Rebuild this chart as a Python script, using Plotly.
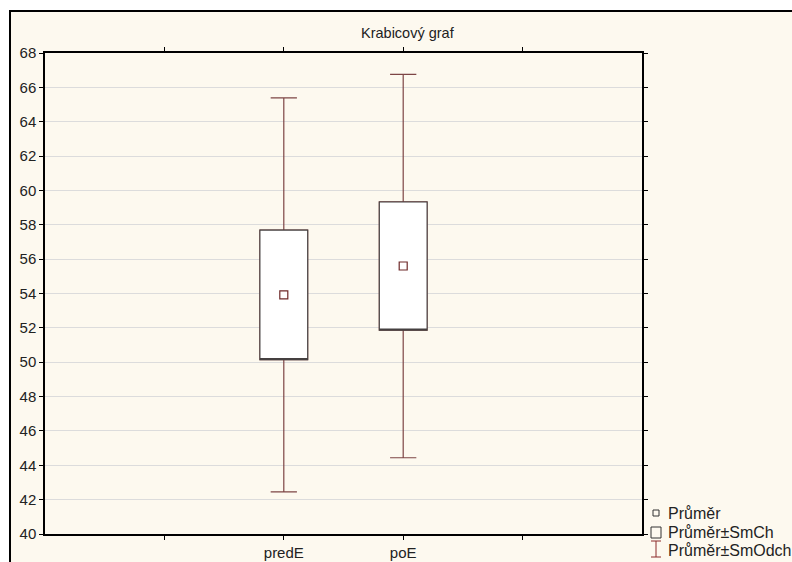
import plotly.graph_objects as go

# Summary statistics per variable
categories = ["predE", "poE"]
positions = [2, 3]
means = [53.92, 55.60]
std_errors = [3.77, 3.73]
std_devs = [11.47, 11.16]

y_ticks = list(range(40, 70, 2))

W, H = 792, 562
L, R, T, B = 45, 150, 53, 28
PW, PH = W - L - R, H - T - B

def px_x(px):
    return (px - L) / PW

def px_y(py):
    return (H - B - py) / PH

WHISKER = "#7d4545"
BOXLINE = "#454040"
MEAN = "#6e2a2a"
CREAM = "#fdf9ef"
FONT = "Liberation Sans, Arial, sans-serif"

fig = go.Figure()

lower_se = [m - s for m, s in zip(means, std_errors)]
upper_se = [m + s for m, s in zip(means, std_errors)]

# Mean ± SD whiskers with caps
fig.add_trace(go.Box(
    x=positions,
    q1=lower_se, median=lower_se, q3=upper_se,
    lowerfence=[m - d for m, d in zip(means, std_devs)],
    upperfence=[m + d for m, d in zip(means, std_devs)],
    width=0.4, whiskerwidth=0.55,
    fillcolor="white", line=dict(color=WHISKER, width=1.2),
    showlegend=False, hoverinfo="skip",
))

# Mean ± SE boxes
fig.add_trace(go.Box(
    x=positions,
    q1=lower_se, median=lower_se, q3=upper_se,
    lowerfence=lower_se, upperfence=upper_se,
    width=0.4, whiskerwidth=0,
    fillcolor="white", line=dict(color=BOXLINE, width=1.1),
    showlegend=False, hoverinfo="skip",
))

# Means
fig.add_trace(go.Scatter(
    x=positions, y=means, mode="markers",
    marker=dict(symbol="square-open", size=8, color=MEAN, line=dict(width=1.2)),
    showlegend=False, hoverinfo="skip",
))

shapes = [
    # cream frame
    dict(type="rect", xref="paper", yref="paper",
         x0=px_x(10), x1=px_x(830), y0=px_y(590), y1=px_y(11),
         fillcolor=CREAM, line=dict(color="black", width=2), layer="below"),
    # legend symbols
    dict(type="rect", xref="paper", yref="paper",
         x0=px_x(653), x1=px_x(659), y0=px_y(516), y1=px_y(510),
         line=dict(color="#333333", width=1), fillcolor="rgba(0,0,0,0)"),
    dict(type="rect", xref="paper", yref="paper",
         x0=px_x(651), x1=px_x(661), y0=px_y(538), y1=px_y(527),
         line=dict(color="#333333", width=1), fillcolor="rgba(0,0,0,0)"),
    dict(type="line", xref="paper", yref="paper",
         x0=px_x(656), x1=px_x(656), y0=px_y(557), y1=px_y(541),
         line=dict(color="#8b2a2a", width=1)),
    dict(type="line", xref="paper", yref="paper",
         x0=px_x(651), x1=px_x(661), y0=px_y(541), y1=px_y(541),
         line=dict(color="#8b2a2a", width=1)),
    dict(type="line", xref="paper", yref="paper",
         x0=px_x(651), x1=px_x(661), y0=px_y(557), y1=px_y(557),
         line=dict(color="#8b2a2a", width=1)),
]

legend_labels = ["Průměr", "Průměr±SmCh", "Průměr±SmOdch"]
legend_rows = [513, 532, 550]
annotations = [
    dict(text="Krabicový graf", xref="paper", yref="paper",
         x=px_x(408), y=px_y(33), xanchor="center", yanchor="middle",
         showarrow=False,
         font=dict(family=FONT, size=14.5, color="#222222")),
]
for label, row in zip(legend_labels, legend_rows):
    annotations.append(dict(text=label, xref="paper", yref="paper",
                            x=px_x(666), y=px_y(row),
                            xanchor="left", yanchor="middle",
                            showarrow=False,
                            font=dict(family=FONT, size=16, color="#222222")))

fig.update_layout(
    width=W, height=H,
    margin=dict(l=L, r=R, t=T, b=B, pad=0, autoexpand=False),
    paper_bgcolor="white", plot_bgcolor="white",
    boxmode="overlay",
    font=dict(family=FONT, size=15, color="#222222"),
    shapes=shapes, annotations=annotations,
    xaxis=dict(range=[0, 5], tickvals=[1, 2, 3, 4],
               ticktext=["", categories[0], categories[1], ""],
               showgrid=False, zeroline=False,
               showline=True, linecolor="black", linewidth=1.5, mirror="ticks",
               ticks="outside", ticklen=4, tickcolor="black",
               tickfont=dict(size=15)),
    yaxis=dict(range=[40, 68], tickvals=y_ticks,
               showgrid=True, gridcolor="#dcdcdc", gridwidth=1, zeroline=False,
               showline=True, linecolor="black", linewidth=1.5, mirror="ticks",
               ticks="outside", ticklen=4, tickcolor="black",
               tickfont=dict(size=15)),
)

fig.write_html("out.html")
